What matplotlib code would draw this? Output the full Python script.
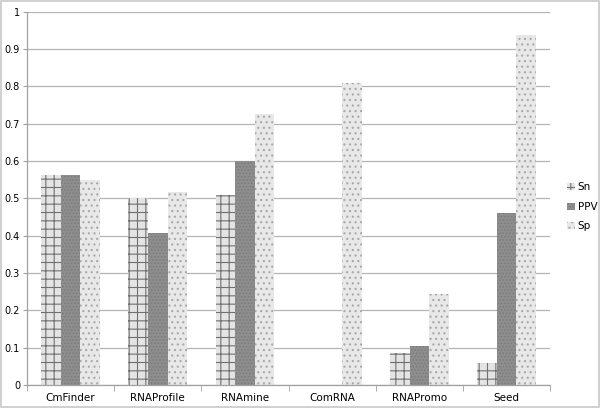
import matplotlib.pyplot as plt
import numpy as np

plt.rcParams['hatch.linewidth'] = 0.8

categories = ['CmFinder', 'RNAProfile', 'RNAmine', 'ComRNA', 'RNAPromo', 'Seed']
sn = [0.562, 0.502, 0.51, 0.0, 0.085, 0.06]
ppv = [0.562, 0.407, 0.60, 0.0, 0.105, 0.462]
sp = [0.55, 0.518, 0.725, 0.81, 0.245, 0.937]
yticks = [0, 0.1, 0.2, 0.3, 0.4, 0.5, 0.6, 0.7, 0.8, 0.9, 1]
ytick_labels = ['0', '0.1', '0.2', '0.3', '0.4', '0.5', '0.6', '0.7', '0.8', '0.9', '1']

fig = plt.figure(figsize=(6, 4.08), dpi=100)
ax = fig.add_axes([0.045, 0.056, 0.872, 0.915])

x = np.arange(len(categories))
w = 0.225
b1 = ax.bar(x - w, sn, w, color='#e4e4e4', edgecolor='#707070', linewidth=0, hatch='++', label='Sn', zorder=2)
b2 = ax.bar(x, ppv, w, color='#8e8e8e', edgecolor='#7c7c7c', linewidth=0, hatch='.....', label='PPV', zorder=2)
b3 = ax.bar(x + w, sp, w, color='#e8e8e8', edgecolor='#a8a8a8', linewidth=0, hatch='...', label='Sp', zorder=2)

ax.set_xlim(-0.5, len(categories) - 0.5)
ax.set_ylim(0, 1)
ax.set_yticks(yticks)
ax.set_yticklabels(ytick_labels)
ax.yaxis.grid(True, color='#b4b4b4', linewidth=0.9, zorder=0)
ax.set_axisbelow(True)

ax.set_xticks(x)
ax.set_xticklabels(categories)
ax.set_xticks(np.arange(len(categories) + 1) - 0.5, minor=True)
ax.tick_params(axis='x', which='major', length=0, pad=6, labelsize=7.5)
ax.tick_params(axis='x', which='minor', length=4, color='#a0a0a0', direction='out')
ax.tick_params(axis='y', length=3, color='#a0a0a0', labelsize=7, pad=2)

for s in ['top', 'right']:
    ax.spines[s].set_visible(False)
for s in ['left', 'bottom']:
    ax.spines[s].set_color('#a0a0a0')
    ax.spines[s].set_linewidth(0.9)

fig.legend(handles=[b1, b2, b3], loc='center left', bbox_to_anchor=(0.93, 0.493),
           frameon=False, fontsize=7.5, handlelength=0.7, handleheight=0.7,
           handletextpad=0.3, labelspacing=0.9)

# thin grey frame around the whole picture
fig.patches.append(plt.Rectangle((0.002, 0.003), 0.996, 0.994, transform=fig.transFigure,
                                 fill=False, edgecolor='#c8c8c8', linewidth=1.2))

fig.savefig('out.png', dpi=100)
